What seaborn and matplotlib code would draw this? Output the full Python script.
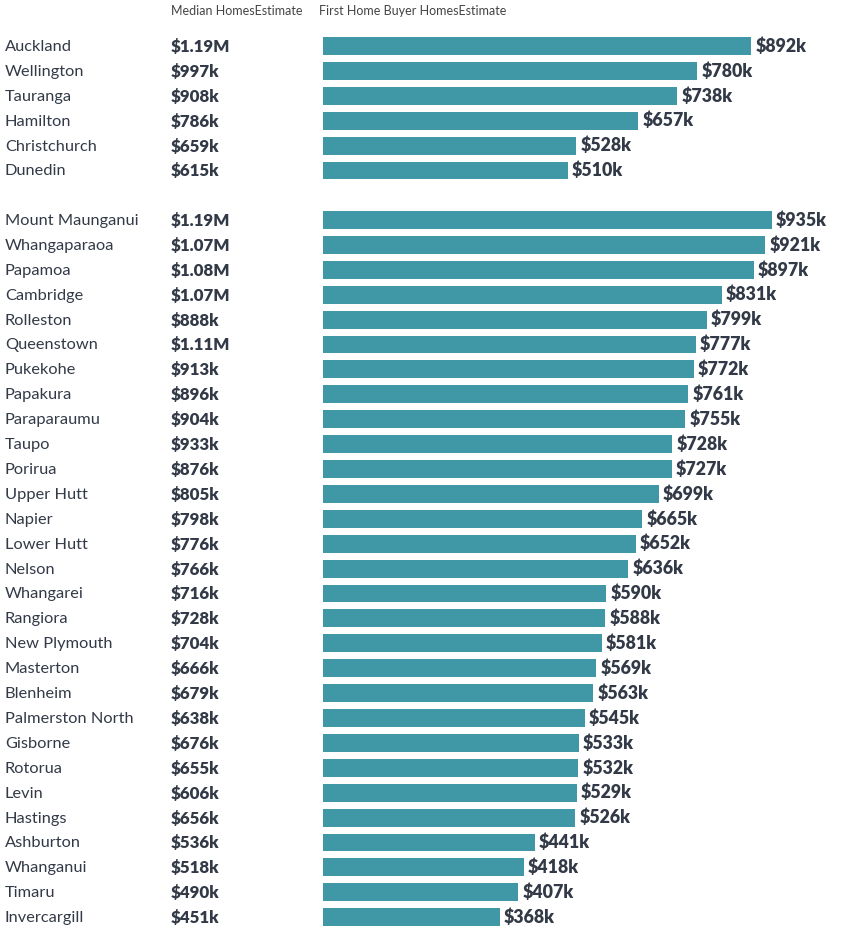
import matplotlib
matplotlib.use("Agg")
import matplotlib.pyplot as plt
import matplotlib.transforms as mtransforms
import seaborn as sns
import pandas as pd

# Main cities (values in $k)
cities = ['Auckland', 'Wellington', 'Tauranga', 'Hamilton', 'Christchurch', 'Dunedin']
city_median = [1190, 997, 908, 786, 659, 615]
city_fhb = [892, 780, 738, 657, 528, 510]

# Towns (values in $k)
towns = ['Mount Maunganui', 'Whangaparaoa', 'Papamoa', 'Cambridge', 'Rolleston',
         'Queenstown', 'Pukekohe', 'Papakura', 'Paraparaumu', 'Taupo', 'Porirua',
         'Upper Hutt', 'Napier', 'Lower Hutt', 'Nelson', 'Whangarei', 'Rangiora',
         'New Plymouth', 'Masterton', 'Blenheim', 'Palmerston North', 'Gisborne',
         'Rotorua', 'Levin', 'Hastings', 'Ashburton', 'Whanganui', 'Timaru',
         'Invercargill']
town_median = [1190, 1070, 1080, 1070, 888, 1110, 913, 896, 904, 933, 876, 805, 798,
               776, 766, 716, 728, 704, 666, 679, 638, 676, 655, 606, 656, 536, 518,
               490, 451]
town_fhb = [935, 921, 897, 831, 799, 777, 772, 761, 755, 728, 727, 699, 665, 652,
            636, 590, 588, 581, 569, 563, 545, 533, 532, 529, 526, 441, 418, 407, 368]

BAR = '#4097a6'
TXT = '#333a47'
plt.rcParams['font.family'] = ['Lato', 'DejaVu Sans']


def money(v):
    if v >= 1000:
        return '${:.2f}M'.format(v / 1000)
    return '${:d}k'.format(int(v))


W, H = 845, 932
fig = plt.figure(figsize=(W / 100, H / 100), dpi=100)
row = 24.9
left = 323 / W
xmax = (W - 323) / 0.48

groups = [(cities, city_median, city_fhb, 46), (towns, town_median, town_fhb, 220)]
for names, med, fhb, first in groups:
    top = first - row / 2
    bottom = first + (len(names) - 1) * row + row / 2
    ax = fig.add_axes([left, 1 - bottom / H, 1 - left, (bottom - top) / H])
    df = pd.DataFrame({'place': names, 'fhb': fhb})
    sns.barplot(data=df, x='fhb', y='place', color=BAR, saturation=1,
                width=0.72, ax=ax, orient='h')
    ax.set_xlim(0, xmax)
    ax.set_ylim(len(names) - 0.5, -0.5)
    ax.bar_label(ax.containers[0], labels=[money(v) for v in fhb], padding=3,
                 fontsize=12.8, fontweight='heavy', color=TXT)
    tr = mtransforms.blended_transform_factory(fig.transFigure, ax.transData)
    for i, (n, m) in enumerate(zip(names, med)):
        ax.text(5 / W, i + 0.04, n, transform=tr, ha='left', va='center',
                fontsize=11.8, color=TXT)
        ax.text(171 / W, i + 0.04, money(m), transform=tr, ha='left', va='center',
                fontsize=12.2, fontweight='heavy', color=TXT)
    ax.set_axis_off()

fig.text(171 / W, 1 - 11 / H, 'Median HomesEstimate', ha='left', va='center',
         fontsize=9.0, color='#444444')
fig.text(319 / W, 1 - 11 / H, 'First Home Buyer HomesEstimate', ha='left',
         va='center', fontsize=9.0, color='#444444')

fig.savefig('out.png', dpi=100)
